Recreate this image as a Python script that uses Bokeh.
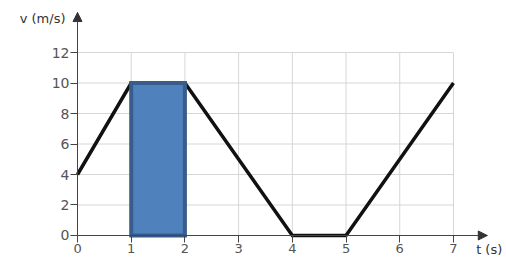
from bokeh.plotting import figure
from bokeh.models import Range1d, FixedTicker, Arrow, NormalHead, Label
from bokeh.embed import file_html
from bokeh.resources import INLINE

# data
t_vals = [0, 1, 2, 4, 5, 7]
v_vals = [4, 10, 10, 0, 0, 10]
rect_left, rect_right, rect_bottom, rect_top = [1], [2], [0], [10]
x_ticks = [0, 1, 2, 3, 4, 5, 6, 7]
y_ticks = [0, 2, 4, 6, 8, 10, 12]
x_axis_end = 7.63
y_axis_end = 14.62

FONT = "DejaVu Sans"

p = figure(width=506, height=261, output_backend="svg", toolbar_location=None,
           x_range=Range1d(-1.434, 7.988), y_range=Range1d(-1.705, 15.41),
           min_border=0, min_border_bottom=0, min_border_top=0,
           min_border_left=0, min_border_right=0)
p.outline_line_color = None
p.xgrid.visible = False
p.ygrid.visible = False

# grid lines (bounded to data area)
gx = [x for x in x_ticks if x > 0]
p.segment(x0=gx, y0=[0] * len(gx), x1=gx, y1=[max(y_ticks)] * len(gx),
          line_color="#d6d6d6", line_width=1)
gy = [y for y in y_ticks if y > 0]
p.segment(x0=[0] * len(gy), y0=gy, x1=[max(x_ticks)] * len(gy), y1=gy,
          line_color="#d6d6d6", line_width=1)

# velocity line
p.line(t_vals, v_vals, line_color="#111111", line_width=3.5, line_join="miter")

# shaded rectangle
p.quad(left=rect_left, right=rect_right, bottom=rect_bottom, top=rect_top,
       fill_color="#4F81BD", line_color="#385D8A", line_width=4, line_join="miter")

for ax, ticks, end, fs, st in ((p.xaxis, x_ticks, x_axis_end, "13px", 2),
                               (p.yaxis, y_ticks, y_axis_end, "14px", 1)):
    ax.fixed_location = 0
    ax.bounds = (0, end)
    ax.ticker = FixedTicker(ticks=ticks)
    ax.minor_tick_line_color = None
    ax.axis_line_color = "#444444"
    ax.major_tick_line_color = "#444444"
    ax.major_tick_in = 0
    ax.major_tick_out = 7
    ax.major_label_text_font = FONT
    ax.major_label_text_font_size = fs
    ax.major_label_text_color = "#555555"
    ax.major_label_standoff = st

p.add_layout(Arrow(end=NormalHead(size=9, fill_color="#333333", line_color="#333333"),
                   x_start=0, y_start=y_axis_end - 0.8, x_end=0, y_end=y_axis_end,
                   line_color="#444444", line_width=1))
p.add_layout(Arrow(end=NormalHead(size=9, fill_color="#333333", line_color="#333333"),
                   x_start=x_axis_end - 0.2, y_start=0, x_end=x_axis_end, y_end=0,
                   line_color="#444444", line_width=1))

p.add_layout(Label(x=0, y=y_axis_end, x_offset=-12, y_offset=-6, text="v (m/s)",
                   text_align="right", text_baseline="middle", text_font=FONT,
                   text_font_size="13px", text_color="#333333"))
p.add_layout(Label(x=x_axis_end, y=0, x_offset=15, y_offset=-22, text="t (s)",
                   text_align="right", text_baseline="bottom", text_font=FONT,
                   text_font_size="13px", text_color="#333333"))

open("out.html", "w").write(file_html(p, INLINE))
